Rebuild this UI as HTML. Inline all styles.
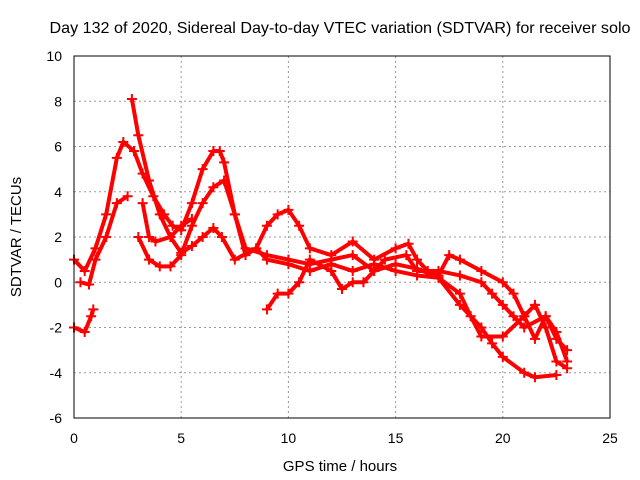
<!DOCTYPE html>
<html><head><meta charset="utf-8"><style>
body{margin:0;background:#fff;}
svg{display:block;font-family:"Liberation Sans",sans-serif;}
</style></head><body>
<svg id="chart" width="640" height="480">
<text x="340" y="33" font-size="16" text-anchor="middle" textLength="581" lengthAdjust="spacingAndGlyphs">Day 132 of 2020, Sidereal Day-to-day VTEC variation (SDTVAR) for receiver solo</text>
<text x="340" y="471" font-size="15" text-anchor="middle">GPS time / hours</text>
<text transform="translate(21,237) rotate(-90)" font-size="15" text-anchor="middle">SDTVAR / TECUs</text>
<g id="grid"></g><g id="series"></g>
<rect x="74" y="56" width="536" height="362" fill="none" stroke="#000"/>
</svg>
<script>
const xTicks=[0,5,10,15,20,25];
const yTicks=[-6,-4,-2,0,2,4,6,8,10];
const traceA=[[0,1],[0.5,0.5],[1,1.5],[1.5,3],[2,5.5],[2.3,6.2],[2.8,5.8],[3.2,4.8],[3.7,3.8],[4.2,3],[4.6,2.5],[5,2.3],[5.5,3.5],[6,5],[6.5,5.8],[6.8,5.8],[7,5.3],[7.5,3],[8,1.2],[8.5,1.5],[9,2.5],[9.5,3],[10,3.2],[10.5,2.5],[11,1.5],[12,1.2],[13,1.8],[14,1],[15,1.5],[15.6,1.7],[16,1],[16.5,0.5],[17,0.3],[17.5,1.2],[18,1],[19,0.5],[20,0],[20.5,-0.5],[21,-1.5],[21.5,-2.5],[22,-1.5],[22.5,-2.5],[23,-3]];
const traceB=[[0,-2],[0.5,-2.2],[0.8,-1.5],[0.9,-1.2]];
const traceC=[[0.3,0],[0.7,-0.1],[1,1],[1.5,2],[2,3.5],[2.5,3.8]];
const traceD=[[2.7,8.1],[3,6.5],[3.5,4.5],[4,3],[4.5,2],[5,1.3],[5.5,1.6],[6,2],[6.5,2.4],[6.9,2],[7.5,1],[8.5,1.5],[9,1],[10,0.8],[11,0.5],[12,0.8],[13,0.5],[14,0.8],[15,0.5],[16,0.3],[17,0.2],[18,-0.5],[18.5,-1.5],[19,-2.4],[20,-2.4],[21,-1.5],[21.5,-1],[22,-2],[22.5,-3.5],[23,-3.8]];
const traceE=[[3,2],[3.5,1],[4,0.7],[4.5,0.7],[5,1.2],[5.5,2.5],[6,3.5],[6.5,4.2],[7,4.5],[7.5,3],[8,1.5],[9,1.2],[10,1],[11,0.8],[12,1],[13,1.2],[14,0.5],[15,0.8],[16,0.6],[17,0.2],[18,-1],[19,-2],[19.5,-2.7],[20,-3.3],[21,-4],[21.5,-4.2],[22.5,-4.1]];
const traceF=[[9,-1.2],[9.5,-0.5],[10,-0.5],[10.5,0],[11,1],[12,0.5],[12.5,-0.3],[13,0],[13.5,0],[14,0.5],[14.5,1],[15.5,1.2],[16,0.5],[17,0.5],[18,0.3],[19,0],[19.5,-0.5],[20,-1],[20.5,-1.5],[21,-2],[22,-1.5],[22.5,-2.2],[23,-3.5]];
const traceG=[[3.2,3.5],[3.5,2],[3.8,1.8],[4.5,2],[5,2.5],[5.5,2.8]];
const traces=[traceA,traceB,traceC,traceD,traceE,traceF,traceG];
const X=v=>74+v*536/25, Y=v=>418-(v+6)*362/16;
const ns="http://www.w3.org/2000/svg";
const g=document.getElementById('grid'), s=document.getElementById('series');
function el(t,a,p){const e=document.createElementNS(ns,t);for(const k in a)e.setAttribute(k,a[k]);p.appendChild(e);return e;}
xTicks.forEach(t=>{
  if(t>0&&t<25){const l=el('line',{x1:X(t),x2:X(t),y1:56,y2:418,stroke:'#999','stroke-dasharray':'2,3'},g);}
  const tx=el('text',{x:X(t),y:443,'font-size':14,'text-anchor':'middle'},g);tx.textContent=t;
  
  
});
yTicks.forEach(t=>{
  if(t>-6&&t<10){const l=el('line',{x1:74,x2:610,y1:Y(t),y2:Y(t),stroke:'#999','stroke-dasharray':'2,3'},g);}
  const tx=el('text',{x:62,y:Y(t)+5,'font-size':14,'text-anchor':'end'},g);tx.textContent=t;
  
  
});
traces.forEach((tr,i)=>{
  const pl=el('polyline',{points:tr.map(p=>X(p[0])+','+Y(p[1])).join(' '),fill:'none',stroke:'#f00','stroke-width':4,'stroke-linejoin':'round'},s);
  
  
  tr.forEach(p=>{
    const m=el('path',{d:`M${X(p[0])-5},${Y(p[1])}h10M${X(p[0])},${Y(p[1])-5}v10`,stroke:'#f00','stroke-width':2},s);
    
    
  });
});
</script>
</body></html>
